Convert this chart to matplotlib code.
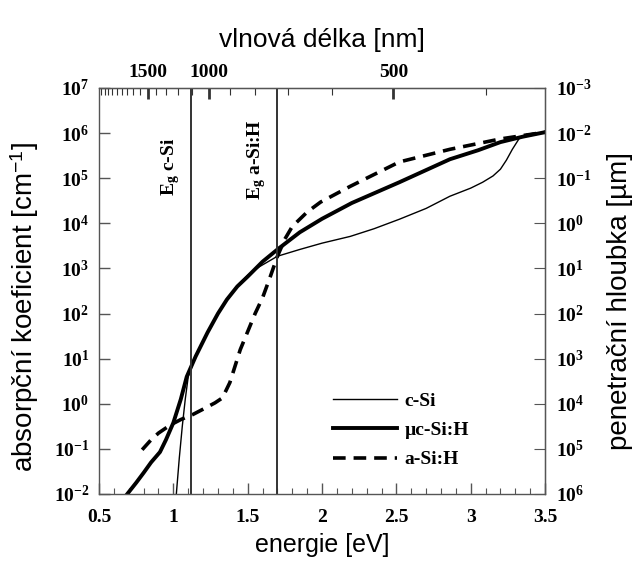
import numpy as np
import matplotlib
matplotlib.use("Agg")
import matplotlib.pyplot as plt
from matplotlib.ticker import FixedLocator, MultipleLocator, NullLocator, FuncFormatter

# fonts: serif bold for numbers, sans for axis titles
plt.rcParams['mathtext.fontset'] = 'custom'
plt.rcParams['mathtext.rm'] = 'Liberation Serif:bold'
plt.rcParams['mathtext.bf'] = 'Liberation Serif:bold'
plt.rcParams['mathtext.it'] = 'Liberation Serif:italic:bold'
plt.rcParams['mathtext.sf'] = 'Liberation Sans'

# absorption coefficient data (energy in eV, log10 of alpha in cm^-1)
csi_E = [1.02, 1.04, 1.06, 1.08, 1.10, 1.15, 1.23, 1.30, 1.36, 1.43, 1.50, 1.58, 1.70,
         1.85, 2.00, 2.19, 2.35, 2.52, 2.70, 2.86, 3.00, 3.08, 3.15, 3.20, 3.24, 3.28,
         3.33, 3.38, 3.44, 3.50]
csi_log = [-2.0, -1.2, -0.5, 0.1, 0.6, 1.05, 1.58, 2.0, 2.31, 2.62, 2.85, 3.04, 3.27,
           3.42, 3.56, 3.71, 3.88, 4.09, 4.33, 4.6, 4.78, 4.91, 5.05, 5.2, 5.4, 5.64,
           5.9, 5.98, 6.0, 6.02]

muc_E = [0.69, 0.75, 0.80, 0.85, 0.91, 0.95, 1.00, 1.05, 1.09, 1.15, 1.23, 1.30, 1.36,
         1.43, 1.50, 1.60, 1.70, 1.85, 2.00, 2.20, 2.52, 2.86, 3.05, 3.20, 3.35, 3.50]
muc_log = [-2.0, -1.75, -1.53, -1.3, -1.07, -0.8, -0.42, 0.1, 0.6, 1.05, 1.58, 2.0, 2.31,
           2.6, 2.82, 3.15, 3.42, 3.8, 4.1, 4.45, 4.91, 5.42, 5.62, 5.8, 5.92, 6.02]

asi_E = [0.79, 0.85, 0.90, 0.98, 1.05, 1.13, 1.20, 1.28, 1.33, 1.38, 1.45, 1.50, 1.55,
         1.60, 1.65, 1.70, 1.75, 1.80, 1.90, 1.99, 2.19, 2.52, 2.86, 3.20, 3.50]
asi_log = [-1.02, -0.8, -0.65, -0.47, -0.35, -0.24, -0.12, 0.02, 0.13, 0.47, 1.2, 1.6,
           2.0, 2.35, 2.8, 3.27, 3.65, 3.93, 4.25, 4.47, 4.82, 5.36, 5.64, 5.87, 6.02]

gap_E = [1.12, 1.70]
gap_labels = [r"E$_{\mathrm{g}}$ c-Si", r"E$_{\mathrm{g}}$ a-Si:H"]
gap_label_y = [10 ** 5.25, 10 ** 5.4]

wl_major = [1500, 1000, 500]
wl_minor = list(range(400, 2500, 100))

left_exp = list(range(-2, 8))
right_exp = list(range(-3, 7))

fig = plt.figure(figsize=(6.36, 5.65), dpi=100)
ax = fig.add_axes([0.1557, 0.1257, 0.7013, 0.7186])

ax.plot(csi_E, 10.0 ** np.array(csi_log), color='black', lw=1.0, label='c-Si')
ax.plot(muc_E, 10.0 ** np.array(muc_log), color='black', lw=2.8, label='µc-Si:H')
ax.plot(asi_E, 10.0 ** np.array(asi_log), color='black', lw=2.6, dashes=(3.5, 2.2),
        label='a-Si:H')

for e, lab, yy in zip(gap_E, gap_labels, gap_label_y):
    ax.axvline(e, color='#333333', lw=1.4)
    ax.text(e - 0.14, yy, lab, rotation=90, ha='center', va='center',
            fontsize=14, family='Liberation Serif', fontweight='bold')

ax.set_yscale('log')
ax.set_xlim(0.5, 3.5)
ax.set_ylim(1e-2, 1e7)

serif = dict(family='Liberation Serif', weight='bold', size=14)


def pow_fmt(v, pos):
    return f"10$^{{{int(round(np.log10(v)))}}}$"


ax.xaxis.set_major_locator(MultipleLocator(0.5))
ax.xaxis.set_minor_locator(MultipleLocator(0.1))
ax.set_xticks([0.5, 1, 1.5, 2, 2.5, 3, 3.5])
ax.set_xticklabels(['0.5', '1', '1.5', '2', '2.5', '3', '3.5'], **serif)
ax.yaxis.set_major_locator(FixedLocator([10.0 ** k for k in left_exp]))
ax.yaxis.set_minor_locator(NullLocator())
ax.yaxis.set_major_formatter(FuncFormatter(pow_fmt))
for t in ax.get_yticklabels():
    t.set(**serif)
ax.tick_params(which='both', direction='in', top=False, right=False, color='#555555')
ax.tick_params(which='major', length=8, width=1.0)
ax.tick_params(axis='x', which='major', pad=11)
ax.tick_params(axis='y', which='major', pad=7, labelsize=14)
ax.tick_params(which='minor', length=4, width=0.8)
for s in ax.spines.values():
    s.set_color('#555555')
    s.set_linewidth(1.0)

ax.set_xlabel('energie [eV]', family='Liberation Sans', fontsize=18, labelpad=5)
ax.set_ylabel(r'absorpční koeficient [cm$^{\mathsf{-1}}$]', family='Liberation Sans',
              fontsize=20)
ax.yaxis.set_label_coords(-0.13, 0.46, transform=ax.transAxes)


def e_to_wl(e):
    e = np.asarray(e, dtype=float)
    return 1239.84 / np.where(e == 0, 1e-9, e)


top = ax.secondary_xaxis('top', functions=(e_to_wl, e_to_wl))
top.xaxis.set_major_locator(FixedLocator(wl_major))
top.xaxis.set_minor_locator(FixedLocator(wl_minor))
top.set_xticklabels([str(w) for w in wl_major], **serif)
top.tick_params(which='both', direction='in', color='#333333')
top.tick_params(which='major', length=8, width=2.0, pad=5)
top.tick_params(which='minor', length=5, width=0.8)
top.set_xlabel('vlnová délka [nm]', family='Liberation Sans', fontsize=19, labelpad=12)


def a_to_depth(a):
    a = np.asarray(a, dtype=float)
    return 1e4 / np.where(a == 0, 1e-30, a)


right = ax.secondary_yaxis('right', functions=(a_to_depth, a_to_depth))
right.yaxis.set_major_locator(FixedLocator([10.0 ** k for k in right_exp]))
right.yaxis.set_minor_locator(NullLocator())
right.yaxis.set_major_formatter(FuncFormatter(pow_fmt))
right.tick_params(which='both', direction='in', length=8, color='#555555', pad=8,
                  labelsize=14)
for t in right.get_yticklabels():
    t.set(**serif)
right.set_ylabel('penetrační hloubka [µm]', family='Liberation Sans', fontsize=20)
right.yaxis.set_label_coords(1.14, 0.475, transform=ax.transAxes)

leg = ax.legend(loc='lower left', bbox_to_anchor=(0.485, 0.02), frameon=False,
                prop=dict(family='Liberation Serif', weight='bold', size=14),
                handlelength=3.3, handletextpad=0.4, labelspacing=0.6)

fig.savefig('out.png', dpi=100)
